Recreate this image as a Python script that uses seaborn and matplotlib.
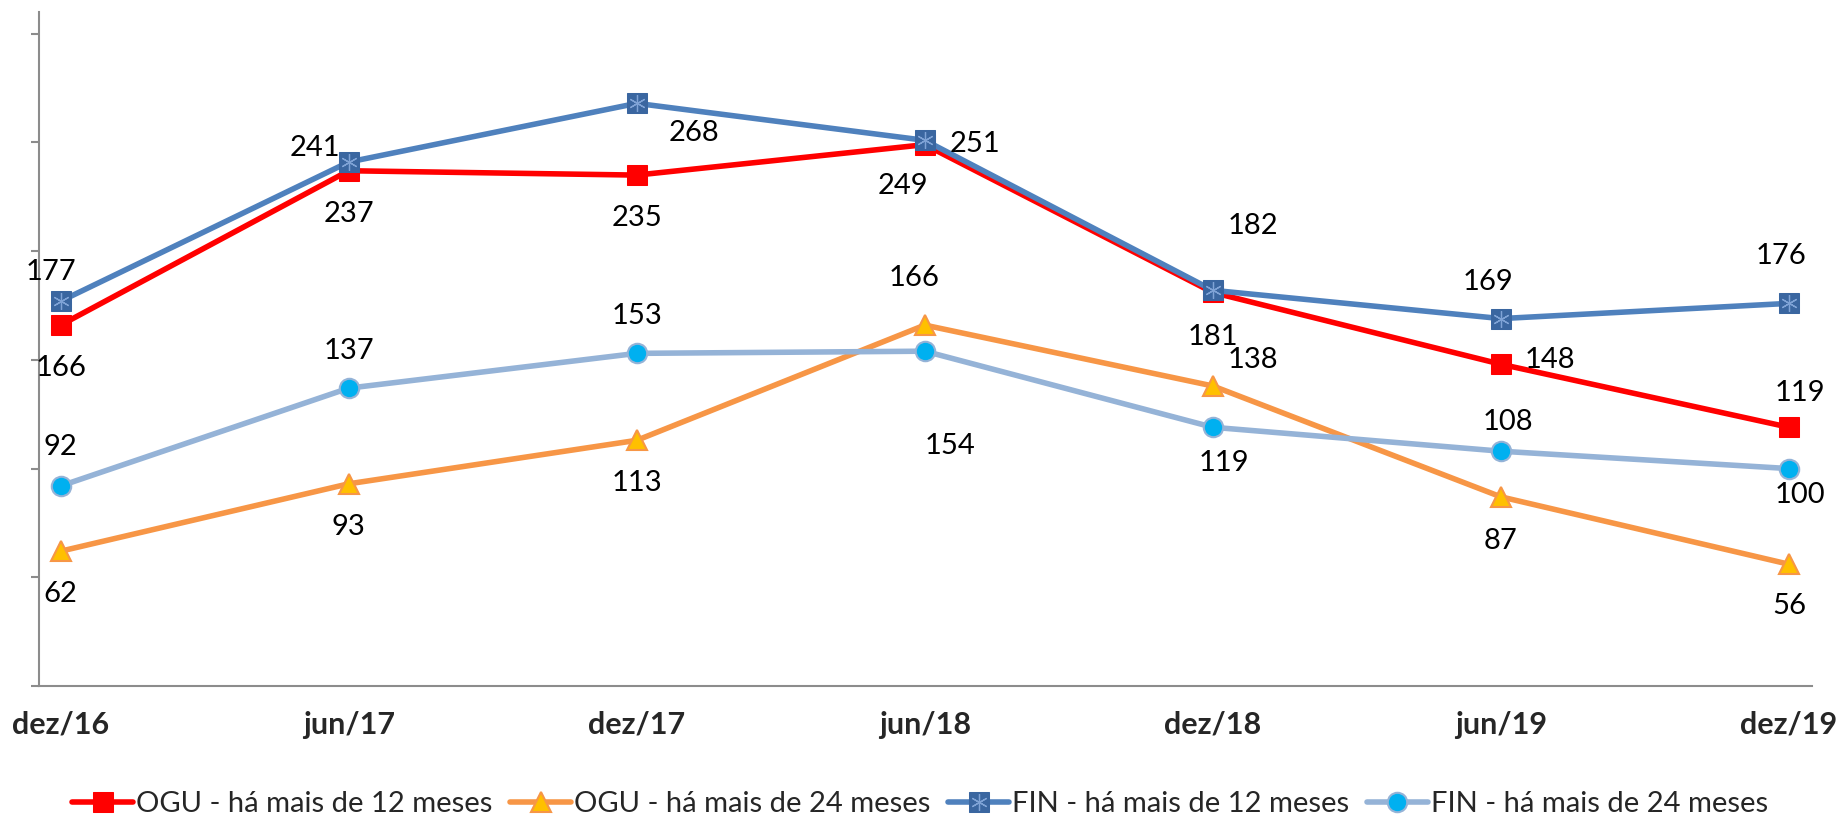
import matplotlib
matplotlib.use("Agg")
import matplotlib.pyplot as plt
import seaborn as sns
import pandas as pd
from matplotlib.legend_handler import HandlerTuple

periods = ["dez/16", "jun/17", "dez/17", "jun/18", "dez/18", "jun/19", "dez/19"]
ogu_12 = [166, 237, 235, 249, 181, 148, 119]
ogu_24 = [62, 93, 113, 166, 138, 87, 56]
fin_12 = [177, 241, 268, 251, 182, 169, 176]
fin_24 = [92, 137, 153, 154, 119, 108, 100]
series_names = ["OGU - há mais de 12 meses", "OGU - há mais de 24 meses",
                "FIN - há mais de 12 meses", "FIN - há mais de 24 meses"]

# label offsets (points) copied from the excel placement
off_ogu_12 = [(0, -31), (0, -31), (0, -31), (-16, -30), (0, -32), (35, 3), (8, 25)]
off_ogu_24 = [(0, -31), (0, -31), (0, -31), (-8, 34), (29, 19), (0, -32), (0, -30)]
off_fin_12 = [(-7, 21), (-24, 10), (41, -21), (36, -3), (29, 46), (-9, 26), (-6, 34)]
off_fin_24 = [(0, 28), (0, 27), (0, 27), (18, -68), (8, -26), (5, 21), (8, -19)]

sns.set_style("white")
plt.rcParams['font.family'] = ['Lato', 'DejaVu Sans']

df = pd.DataFrame({"x": range(len(periods)), "ogu12": ogu_12, "ogu24": ogu_24,
                   "fin12": fin_12, "fin24": fin_24})

fig = plt.figure(figsize=(18.4, 8.19), dpi=100)
ax = fig.add_axes([0.0212, 0.1624, 0.9636, 0.8229])

lw = 4
l1 = sns.lineplot(data=df, x="x", y="ogu12", ax=ax, color="#FF0000", lw=lw,
                  marker="s", markersize=14, markerfacecolor="#FF0000",
                  markeredgecolor="#FF0000", label=series_names[0]).lines[-1]
l2 = sns.lineplot(data=df, x="x", y="ogu24", ax=ax, color="#F79646", lw=lw,
                  marker="^", markersize=15, markerfacecolor="#FFC000",
                  markeredgecolor="#F79646", markeredgewidth=1.5,
                  label=series_names[1]).lines[-1]
l3 = sns.lineplot(data=df, x="x", y="fin12", ax=ax, color="#4F81BD", lw=lw,
                  marker="s", markersize=14, markerfacecolor="#3A66A0",
                  markeredgecolor="#3A66A0", label=series_names[2]).lines[-1]
star, = ax.plot(df["x"], df["fin12"], ls="none", marker=(6, 2, 0), markersize=12,
                markeredgecolor="#7FA3D6", markeredgewidth=0.9, label="_nolegend_")
l4 = sns.lineplot(data=df, x="x", y="fin24", ax=ax, color="#95B3D7", lw=lw,
                  marker="o", markersize=14, markerfacecolor="#00B0F0",
                  markeredgecolor="#95B3D7", markeredgewidth=1.5,
                  label=series_names[3]).lines[-1]

for vals, offs in [(ogu_12, off_ogu_12), (ogu_24, off_ogu_24),
                   (fin_12, off_fin_12), (fin_24, off_fin_24)]:
    for i, v in enumerate(vals):
        ax.annotate(str(v), (i, v), xytext=offs[i], textcoords="offset points",
                    ha="center", va="center", fontsize=21, color="black")

ax.set_xlim(-0.075, 6.08)
ax.set_ylim(0, 310)
ax.set_xticks(range(len(periods)))
ax.set_xticklabels(periods, fontsize=22, fontweight="bold")
ax.tick_params(axis="x", length=0, pad=18)
ax.set_xticks([i - 0.075 for i in range(len(periods))], minor=True)
ax.tick_params(axis="x", which="minor", length=7, width=1.5, color="#8C8C8C", direction="out")
ax.set_yticks(range(0, 301, 50))
ax.set_yticklabels([])
ax.tick_params(axis="y", length=6, width=1.5, color="#8C8C8C", direction="out", left=True)
ax.set_xlabel("")
ax.set_ylabel("")
for s in ["top", "right"]:
    ax.spines[s].set_visible(False)
for s in ["left", "bottom"]:
    ax.spines[s].set_color("#8C8C8C")
    ax.spines[s].set_linewidth(1.5)

ax.legend().remove()
fig.legend([l1, l2, (l3, star), l4], series_names, loc="lower center",
           bbox_to_anchor=(0.5, -0.03), ncol=4, frameon=False, fontsize=21,
           handlelength=2.1, handletextpad=0.1, columnspacing=0.6,
           handler_map={tuple: HandlerTuple(ndivide=1)})

fig.savefig("out.png", dpi=100)
